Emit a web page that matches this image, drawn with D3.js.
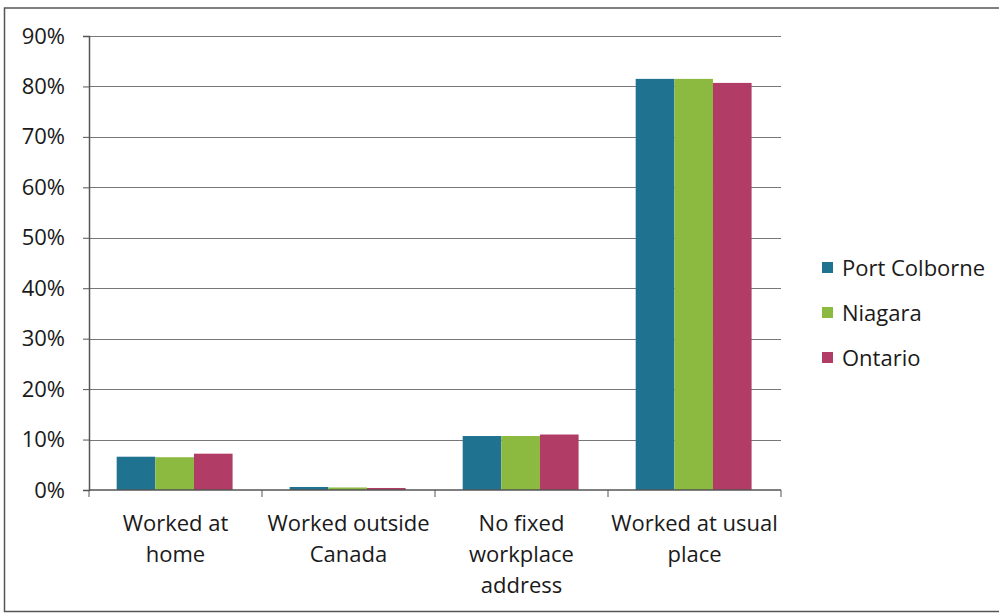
<!DOCTYPE html>
<html>
<head>
<meta charset="utf-8">
<script src="https://cdn.jsdelivr.net/npm/d3@7"></script>
<style>
    body { margin: 0; background: #fff; }
    svg { display: block; }
    .axis text { font-family: "Open Sans", sans-serif; font-size: 22px; fill: #1a1a1a; }
    .legend text { font-family: "Open Sans", sans-serif; font-size: 22px; fill: #1a1a1a; }
</style>
</head>
<body>
<svg id="work-chart"></svg>
<script>
// Categories (place of work) and the three series, in percent
const categories = [["Worked at", "home"], ["Worked outside", "Canada"], ["No fixed", "workplace", "address"], ["Worked at usual", "place"]];
const series_names = ["Port Colborne", "Niagara", "Ontario"];
const port_colborne = [6.6, 0.6, 10.7, 81.5];
const niagara = [6.5, 0.5, 10.7, 81.5];
const ontario = [7.2, 0.4, 11.0, 80.7];
const y_ticks = [0, 10, 20, 30, 40, 50, 60, 70, 80, 90];
const series_colors = ["#1f7391", "#8cb940", "#b13c66"];

// Chart dimensions
const chart_width = 999, chart_height = 614;
const plot = { left: 89, right: 781, top: 36, bottom: 490 };

const series_values = [port_colborne, niagara, ontario];
const category_keys = categories.map(function (c) { return c.join(" "); });

// Scales
const x_scale = d3.scaleBand()
    .domain(category_keys)
    .range([plot.left, plot.right]);
const bar_scale = d3.scaleBand()
    .domain(series_names)
    .range([x_scale.bandwidth() * 0.16, x_scale.bandwidth() * 0.83]);
const y_scale = d3.scaleLinear()
    .domain([0, 90])
    .range([plot.bottom, plot.top]);
const color_scale = d3.scaleOrdinal().domain(series_names).range(series_colors);

const svg = d3.select("#work-chart")
    .attr("width", chart_width)
    .attr("height", chart_height);

// Outer frame of the chart
svg.append("path")
    .attr("d", "M1004,8 H4.5 V611.5 H1004")
    .attr("fill", "none")
    .attr("stroke", "#555")
    .attr("stroke-width", 1.5);

// Horizontal gridlines
svg.append("g")
    .selectAll("line")
    .data(y_ticks.filter(function (d) { return d > 0; }))
    .enter().append("line")
    .attr("x1", plot.left)
    .attr("x2", plot.right)
    .attr("y1", function (d) { return Math.round(y_scale(d)) + 0.5; })
    .attr("y2", function (d) { return Math.round(y_scale(d)) + 0.5; })
    .attr("stroke", "#777")
    .attr("stroke-width", 1);

// Bars, one group per category
const groups = svg.append("g")
    .selectAll("g")
    .data(category_keys)
    .enter().append("g")
    .attr("transform", function (d) { return "translate(" + x_scale(d) + ",0)"; });

groups.selectAll("rect")
    .data(function (d, i) {
        return series_names.map(function (s, j) { return { name: s, value: series_values[j][i] }; });
    })
    .enter().append("rect")
    .attr("x", function (d) { return bar_scale(d.name); })
    .attr("y", function (d) { return y_scale(d.value); })
    .attr("width", bar_scale.bandwidth())
    .attr("height", function (d) { return y_scale(0) - y_scale(d.value); })
    .attr("fill", function (d) { return color_scale(d.name); });

// Y axis
const y_axis = svg.append("g")
    .attr("class", "axis")
    .attr("transform", "translate(" + plot.left + ",0)")
    .call(d3.axisLeft(y_scale).tickValues(y_ticks).tickSize(6).tickPadding(18)
        .tickFormat(function (d) { return d + "%"; }));
y_axis.select(".domain").attr("stroke", "#555").attr("stroke-width", 1.5);
y_axis.selectAll(".tick line").attr("stroke", "#555");

// X axis with ticks between categories
const x_axis = svg.append("g")
    .attr("class", "axis")
    .attr("transform", "translate(0," + plot.bottom + ")");
x_axis.append("line")
    .attr("x1", plot.left).attr("x2", plot.right)
    .attr("stroke", "#555").attr("stroke-width", 1.5);
x_axis.selectAll(".sep")
    .data(category_keys.concat(["end"]))
    .enter().append("line")
    .attr("class", "sep")
    .attr("x1", function (d) { return d === "end" ? plot.right : x_scale(d); })
    .attr("x2", function (d) { return d === "end" ? plot.right : x_scale(d); })
    .attr("y1", 0).attr("y2", 7)
    .attr("stroke", "#555");

// Multi-line category labels
x_axis.selectAll(".cat-label")
    .data(categories)
    .enter().append("text")
    .attr("class", "cat-label")
    .attr("text-anchor", "middle")
    .attr("x", function (d, i) { return x_scale(category_keys[i]) + x_scale.bandwidth() / 2; })
    .attr("y", 41)
    .selectAll("tspan")
    .data(function (d) { return d; })
    .enter().append("tspan")
    .attr("x", function () { return d3.select(this.parentNode).attr("x"); })
    .attr("dy", function (d, i) { return i === 0 ? 0 : 31; })
    .text(function (d) { return d; });

// Legend
const legend = svg.append("g")
    .attr("class", "legend")
    .attr("transform", "translate(822,268)");
const legend_items = legend.selectAll("g")
    .data(series_names)
    .enter().append("g")
    .attr("transform", function (d, i) { return "translate(0," + (i * 45) + ")"; });
legend_items.append("rect")
    .attr("x", 0).attr("y", -6)
    .attr("width", 11).attr("height", 11)
    .attr("fill", function (d) { return color_scale(d); });
legend_items.append("text")
    .attr("x", 20)
    .attr("y", 0)
    .attr("dy", "0.35em")
    .text(function (d) { return d; });
</script>
</body>
</html>
